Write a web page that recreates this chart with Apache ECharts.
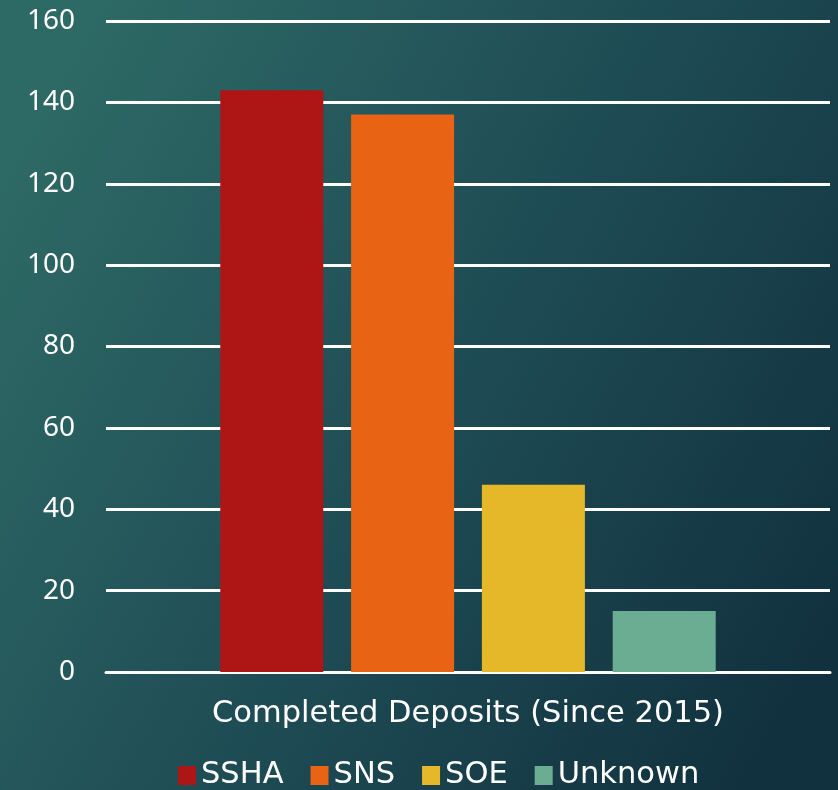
<!DOCTYPE html>
<html><head><meta charset="utf-8">
<script src="https://cdn.jsdelivr.net/npm/echarts@6/dist/echarts.min.js"></script>
<style>html,body{margin:0;padding:0;background:#1d4a52;}#c{width:838px;height:790px;}</style>
</head><body><div id="c"></div>
<script>
const categories = ["Completed Deposits (Since 2015)"];
const seriesNames = ["SSHA", "SNS", "SOE", "Unknown"];
const seriesValues = [[143], [137], [46], [15]];
const seriesColors = ["#AE1515", "#E86313", "#E5B82A", "#6AAD92"];
const yTicks = [0, 20, 40, 60, 80, 100, 120, 140, 160];

const FONT = "'Noto Sans', sans-serif";
const WIDE = "'DejaVu Sans', sans-serif";
const chart = echarts.init(document.getElementById('c'));
chart.setOption({
  backgroundColor: {
    type: 'linear', x: 0, y: 0.2, x2: 1, y2: 0.8,
    colorStops: [{offset: 0, color: '#2e6a65'}, {offset: 0.5, color: '#1f4d55'}, {offset: 1, color: '#11313f'}]
  },
  textStyle: {fontFamily: FONT},
  grid: {left: 106, right: 8, top: 21, bottom: 118, containLabel: false},
  legend: {
    top: 755, left: 173, itemWidth: 18, itemHeight: 19, itemGap: 27,
    icon: 'rect',
    textStyle: {color: '#ffffff', fontSize: 30.5, fontFamily: WIDE, padding: [0, 0, 0, 0]},
    data: seriesNames
  },
  xAxis: {
    type: 'category', data: categories,
    axisLine: {show: true, lineStyle: {color: '#ffffff', width: 3}},
    axisTick: {show: false},
    axisLabel: {color: '#ffffff', fontSize: 30.5, margin: 27, fontFamily: WIDE}
  },
  yAxis: {
    type: 'value', min: yTicks[0], max: yTicks[yTicks.length - 1], interval: 20,
    axisLine: {show: false}, axisTick: {show: false},
    axisLabel: {color: '#ffffff', fontSize: 28, margin: 31, fontFamily: FONT},
    splitLine: {lineStyle: {color: '#ffffff', width: 3}}
  },
  series: seriesNames.map((n, i) => ({
    name: n, type: 'bar', data: seriesValues[i], barWidth: 103, barGap: '27%',
    itemStyle: {color: seriesColors[i]}
  }))
});
</script></body></html>
